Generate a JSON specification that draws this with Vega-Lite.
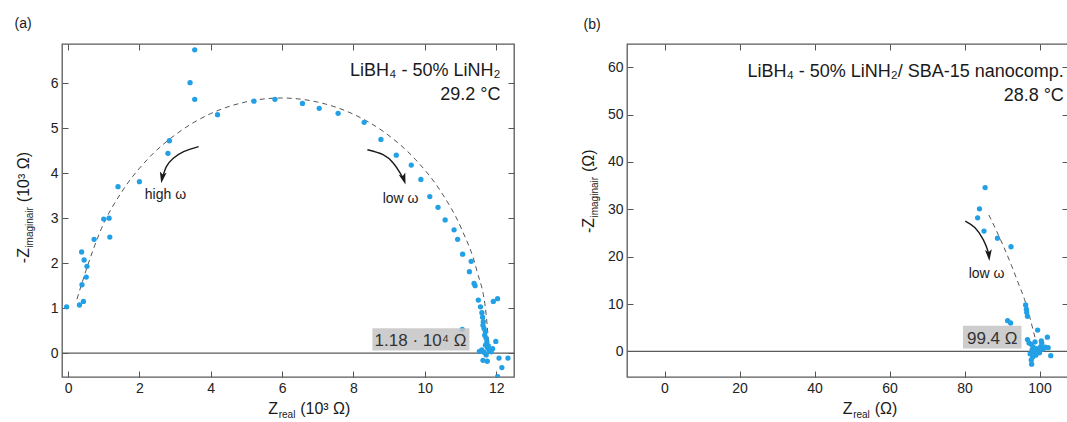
{
  "$schema": "https://vega.github.io/schema/vega-lite/v6.json",
  "background": "white",
  "padding": {"left": 13, "top": 16, "right": 0, "bottom": 0},
  "bounds": "flush",
  "spacing": 113,
  "config": {
    "font": "Liberation Sans",
    "view": {"stroke": "#5a5a5a", "strokeWidth": 1.3},
    "axis": {"grid": false, "domain": false, "tickColor": "#555", "tickWidth": 1, "tickSize": -6, "labelFont": "Liberation Sans", "labelFontSize": 14, "labelColor": "#222", "labelPadding": 10},
    "text": {"font": "Liberation Sans", "color": "#1a1a1a"}
  },
  "datasets": {
    "zero": [{"y": 0}],
    "ptsA": [
      {"x": -0.04, "y": 1.03}, {"x": 0.32, "y": 1.07}, {"x": 0.43, "y": 1.15}, {"x": 0.38, "y": 2.25}, {"x": 0.45, "y": 2.07},
      {"x": 0.53, "y": 1.93}, {"x": 0.51, "y": 1.69}, {"x": 0.39, "y": 1.52}, {"x": 0.73, "y": 2.53}, {"x": 1.0, "y": 2.98},
      {"x": 1.15, "y": 3.0}, {"x": 1.17, "y": 2.58}, {"x": 1.4, "y": 3.7}, {"x": 2.0, "y": 3.81}, {"x": 2.8, "y": 4.44},
      {"x": 2.84, "y": 4.72}, {"x": 3.42, "y": 6.01}, {"x": 3.55, "y": 6.74}, {"x": 3.55, "y": 5.64}, {"x": 4.19, "y": 5.3},
      {"x": 5.21, "y": 5.6}, {"x": 5.8, "y": 5.64}, {"x": 6.57, "y": 5.55}, {"x": 7.04, "y": 5.44}, {"x": 7.57, "y": 5.33},
      {"x": 8.3, "y": 5.13}, {"x": 8.77, "y": 4.75}, {"x": 9.2, "y": 4.4}, {"x": 9.62, "y": 4.18}, {"x": 9.89, "y": 3.86},
      {"x": 10.14, "y": 3.48}, {"x": 10.37, "y": 3.24}, {"x": 10.57, "y": 2.96}, {"x": 10.82, "y": 2.74}, {"x": 10.92, "y": 2.53},
      {"x": 11.06, "y": 2.2}, {"x": 11.3, "y": 2.04}, {"x": 11.25, "y": 1.81}, {"x": 11.38, "y": 1.55}, {"x": 11.41, "y": 1.5},
      {"x": 11.5, "y": 1.18}, {"x": 11.56, "y": 1.03}, {"x": 11.92, "y": 1.15}, {"x": 12.04, "y": 1.21}, {"x": 11.6, "y": 0.9},
      {"x": 11.62, "y": 0.8}, {"x": 11.64, "y": 0.7}, {"x": 11.63, "y": 0.62}, {"x": 11.66, "y": 0.55}, {"x": 11.7, "y": 0.48},
      {"x": 11.68, "y": 0.4}, {"x": 11.72, "y": 0.33}, {"x": 11.74, "y": 0.25}, {"x": 11.7, "y": 0.18}, {"x": 11.76, "y": 0.12},
      {"x": 11.6, "y": 0.07}, {"x": 11.53, "y": 0.04}, {"x": 11.66, "y": 0.02}, {"x": 11.8, "y": 0.06}, {"x": 11.86, "y": 0.03},
      {"x": 11.78, "y": 0.16}, {"x": 11.9, "y": 0.1}, {"x": 11.72, "y": -0.04}, {"x": 11.63, "y": -0.16}, {"x": 11.75, "y": -0.18},
      {"x": 11.05, "y": 0.53}, {"x": 11.99, "y": 0.26}, {"x": 12.08, "y": -0.11}, {"x": 12.33, "y": -0.11}, {"x": 12.16, "y": -0.32},
      {"x": 12.04, "y": -0.52}
    ],
    "fitA": [
      {"x": 0.25, "y": 1.2}, {"x": 0.5, "y": 1.83}, {"x": 0.93, "y": 2.76}, {"x": 1.51, "y": 3.59}, {"x": 2.23, "y": 4.31},
      {"x": 3.07, "y": 4.89}, {"x": 3.99, "y": 5.32}, {"x": 4.97, "y": 5.58}, {"x": 5.98, "y": 5.67}, {"x": 6.99, "y": 5.58},
      {"x": 7.97, "y": 5.32}, {"x": 8.9, "y": 4.89}, {"x": 9.73, "y": 4.31}, {"x": 10.45, "y": 3.59}, {"x": 11.03, "y": 2.76},
      {"x": 11.46, "y": 1.83}, {"x": 11.72, "y": 0.85}, {"x": 11.81, "y": 0.0}
    ],
    "arrowsA": [
      {"a": 1, "x": 3.66, "y": 4.59}, {"a": 1, "x": 3.24, "y": 4.48}, {"a": 1, "x": 2.95, "y": 4.33}, {"a": 1, "x": 2.76, "y": 4.15}, {"a": 1, "x": 2.66, "y": 3.93},
      {"a": 2, "x": 8.39, "y": 4.52}, {"a": 2, "x": 8.83, "y": 4.41}, {"a": 2, "x": 9.12, "y": 4.22}, {"a": 2, "x": 9.31, "y": 4.0}, {"a": 2, "x": 9.39, "y": 3.88}
    ],
    "headA1": [{"x": 2.64, "y": 3.9}],
    "headA2": [{"x": 9.41, "y": 3.87}],
    "boxA": [{"x": 8.53, "x2": 11.25, "y": 0.06, "y2": 0.556}],
    "boxTextA": [{"x": 9.88, "y": 0.15, "t": "1.18 · 10⁴ Ω"}],
    "noteA": [{"x": 12.12, "y": 6.15, "t": "LiBH₄ - 50% LiNH₂"}, {"x": 12.12, "y": 5.63, "t": "29.2 °C"}],
    "omegaA": [{"x": 2.73, "y": 3.42, "t": "high ω"}, {"x": 9.32, "y": 3.33, "t": "low ω"}],
    "tagA": [{"x": -1.5, "y": 7.23, "t": "(a)"}],
    "xtA": [{"x": 5.61, "y": -1.35}],
    "ytA": [{"x": -1.1, "y": 2.0}],
    "ptsB": [
      {"x": 85.5, "y": 34.6}, {"x": 84.0, "y": 30.1}, {"x": 83.5, "y": 28.2}, {"x": 85.2, "y": 25.4}, {"x": 88.8, "y": 23.9},
      {"x": 92.4, "y": 22.1}, {"x": 96.3, "y": 9.8}, {"x": 96.5, "y": 8.9}, {"x": 96.8, "y": 7.4}, {"x": 96.6, "y": 8.2},
      {"x": 91.5, "y": 6.5}, {"x": 92.3, "y": 6.0}, {"x": 99.5, "y": 4.5}, {"x": 102.1, "y": 3.0}, {"x": 96.8, "y": 2.5},
      {"x": 97.2, "y": 1.8}, {"x": 97.8, "y": 1.5}, {"x": 98.3, "y": 0.9}, {"x": 98.0, "y": 0.3}, {"x": 97.5, "y": -0.5},
      {"x": 98.2, "y": -1.2}, {"x": 97.8, "y": -1.8}, {"x": 97.9, "y": -2.7}, {"x": 98.6, "y": -0.3}, {"x": 99.2, "y": 0.6},
      {"x": 99.8, "y": 0.2}, {"x": 100.3, "y": 1.0}, {"x": 100.6, "y": 1.8}, {"x": 101.0, "y": 0.5}, {"x": 101.5, "y": 0.9},
      {"x": 102.3, "y": 0.8}, {"x": 100.0, "y": -0.3}, {"x": 99.0, "y": -0.8}, {"x": 103.0, "y": -0.9}, {"x": 98.8, "y": 2.0},
      {"x": 100.5, "y": 2.2}
    ],
    "fitB": [
      {"x": 86.5, "y": 28.8}, {"x": 88.5, "y": 25.5}, {"x": 90.5, "y": 22.0}, {"x": 92.5, "y": 18.2}, {"x": 94.3, "y": 14.5},
      {"x": 96.0, "y": 11.0}, {"x": 97.2, "y": 7.8}, {"x": 98.3, "y": 4.5}, {"x": 99.0, "y": 2.3}
    ],
    "arrowsB": [
      {"a": 1, "x": 80.2, "y": 27.5}, {"a": 1, "x": 82.8, "y": 26.1}, {"a": 1, "x": 85.0, "y": 23.6}, {"a": 1, "x": 86.2, "y": 21.3}, {"a": 1, "x": 86.4, "y": 20.5}
    ],
    "headB": [{"x": 86.5, "y": 20.3}],
    "boxB": [{"x": 79.6, "x2": 95.2, "y": 0.63, "y2": 5.4}],
    "boxTextB": [{"x": 87.4, "y": 1.5, "t": "99.4 Ω"}],
    "noteB": [{"x": 106.5, "y": 57.9, "t": "LiBH₄ - 50% LiNH₂/ SBA-15 nanocomp."}, {"x": 106.5, "y": 52.8, "t": "28.8 °C"}],
    "omegaB": [{"x": 85.9, "y": 15.6, "t": "low ω"}],
    "tagB": [{"x": -21.6, "y": 68.1, "t": "(b)"}],
    "xtB": [{"x": 47.5, "y": -13.3}],
    "ytB": [{"x": -18.7, "y": 25.0}]
  },
  "hconcat": [
    {
      "width": 452,
      "height": 333,
      "resolve": {"axis": {"x": "independent", "y": "independent"}},
      "layer": [
        {
          "data": {"name": "fitA"},
          "mark": {"type": "line", "stroke": "#555", "strokeWidth": 1, "strokeDash": [5, 4], "interpolate": "monotone", "clip": true},
          "encoding": {
            "x": {"field": "x", "type": "quantitative", "scale": {"domain": [-0.17, 12.5], "nice": false, "zero": false}, "axis": {"orient": "top", "values": [0, 2, 4, 6, 8, 10, 12], "labels": false, "title": null}},
            "y": {"field": "y", "type": "quantitative", "scale": {"domain": [-0.53, 6.87], "nice": false, "zero": false}, "axis": {"orient": "right", "values": [0, 1, 2, 3, 4, 5, 6], "labels": false, "title": null}}
          }
        },
        {
          "data": {"name": "zero"},
          "mark": {"type": "rule", "color": "#5a5a5a", "strokeWidth": 1.3},
          "encoding": {"y": {"field": "y", "type": "quantitative", "axis": null}}
        },
        {
          "data": {"name": "ptsA"},
          "mark": {"type": "circle", "size": 28, "color": "#22a0e6", "opacity": 1, "clip": true},
          "encoding": {
            "x": {"field": "x", "type": "quantitative", "axis": {"orient": "bottom", "values": [0, 2, 4, 6, 8, 10, 12], "title": null}},
            "y": {"field": "y", "type": "quantitative", "axis": {"orient": "left", "values": [0, 1, 2, 3, 4, 5, 6], "title": null}}
          }
        },
        {
          "data": {"name": "boxA"},
          "mark": {"type": "rect", "color": "#c4c4c4", "opacity": 0.85},
          "encoding": {
            "x": {"field": "x", "type": "quantitative", "axis": null}, "x2": {"field": "x2"},
            "y": {"field": "y", "type": "quantitative", "axis": null}, "y2": {"field": "y2"}
          }
        },
        {
          "data": {"name": "boxTextA"},
          "mark": {"type": "text", "fontSize": 17, "align": "center", "baseline": "alphabetic", "color": "#333"},
          "encoding": {"x": {"field": "x", "type": "quantitative", "axis": null}, "y": {"field": "y", "type": "quantitative", "axis": null}, "text": {"field": "t"}}
        },
        {
          "data": {"name": "arrowsA"},
          "mark": {"type": "line", "color": "#1a1a1a", "strokeWidth": 1.4, "interpolate": "natural"},
          "encoding": {"x": {"field": "x", "type": "quantitative", "axis": null}, "y": {"field": "y", "type": "quantitative", "axis": null}, "detail": {"field": "a"}}
        },
        {
          "data": {"name": "headA1"},
          "mark": {"type": "point", "shape": "M-0.6,-1L0,1L0.6,-1L0,-0.55Z", "filled": true, "color": "#1a1a1a", "opacity": 1, "size": 130, "angle": 10},
          "encoding": {"x": {"field": "x", "type": "quantitative", "axis": null}, "y": {"field": "y", "type": "quantitative", "axis": null}}
        },
        {
          "data": {"name": "headA2"},
          "mark": {"type": "point", "shape": "M-0.6,-1L0,1L0.6,-1L0,-0.55Z", "filled": true, "color": "#1a1a1a", "opacity": 1, "size": 130, "angle": -18},
          "encoding": {"x": {"field": "x", "type": "quantitative", "axis": null}, "y": {"field": "y", "type": "quantitative", "axis": null}}
        },
        {
          "data": {"name": "noteA"},
          "mark": {"type": "text", "fontSize": 18, "align": "right", "baseline": "alphabetic"},
          "encoding": {"x": {"field": "x", "type": "quantitative", "axis": null}, "y": {"field": "y", "type": "quantitative", "axis": null}, "text": {"field": "t"}}
        },
        {
          "data": {"name": "omegaA"},
          "mark": {"type": "text", "fontSize": 14, "align": "center", "baseline": "alphabetic"},
          "encoding": {"x": {"field": "x", "type": "quantitative", "axis": null}, "y": {"field": "y", "type": "quantitative", "axis": null}, "text": {"field": "t"}}
        },
        {
          "data": {"name": "tagA"},
          "mark": {"type": "text", "fontSize": 14, "align": "left", "baseline": "alphabetic"},
          "encoding": {"x": {"field": "x", "type": "quantitative", "axis": null}, "y": {"field": "y", "type": "quantitative", "axis": null}, "text": {"field": "t"}}
        },
        {
          "data": {"name": "xtA"},
          "mark": {"type": "text", "fontSize": 16, "align": "left", "baseline": "alphabetic", "text": "Z"},
          "encoding": {"x": {"field": "x", "type": "quantitative", "axis": null}, "y": {"field": "y", "type": "quantitative", "axis": null}}
        },
        {
          "data": {"name": "xtA"},
          "mark": {"type": "text", "fontSize": 10, "align": "left", "baseline": "alphabetic", "text": "real", "dx": 10.5, "dy": 4},
          "encoding": {"x": {"field": "x", "type": "quantitative", "axis": null}, "y": {"field": "y", "type": "quantitative", "axis": null}}
        },
        {
          "data": {"name": "xtA"},
          "mark": {"type": "text", "fontSize": 16, "align": "left", "baseline": "alphabetic", "text": "(10³ Ω)", "dx": 32},
          "encoding": {"x": {"field": "x", "type": "quantitative", "axis": null}, "y": {"field": "y", "type": "quantitative", "axis": null}}
        },
        {
          "data": {"name": "ytA"},
          "mark": {"type": "text", "fontSize": 16, "align": "left", "baseline": "alphabetic", "angle": 270, "text": "-Z"},
          "encoding": {"x": {"field": "x", "type": "quantitative", "axis": null}, "y": {"field": "y", "type": "quantitative", "axis": null}}
        },
        {
          "data": {"name": "ytA"},
          "mark": {"type": "text", "fontSize": 10, "align": "left", "baseline": "alphabetic", "angle": 270, "text": "imaginair", "dx": 15.5, "dy": 4},
          "encoding": {"x": {"field": "x", "type": "quantitative", "axis": null}, "y": {"field": "y", "type": "quantitative", "axis": null}}
        },
        {
          "data": {"name": "ytA"},
          "mark": {"type": "text", "fontSize": 16, "align": "left", "baseline": "alphabetic", "angle": 270, "text": "(10³ Ω)", "dx": 61},
          "encoding": {"x": {"field": "x", "type": "quantitative", "axis": null}, "y": {"field": "y", "type": "quantitative", "axis": null}}
        }
      ]
    },
    {
      "width": 441,
      "height": 333,
      "resolve": {"axis": {"x": "independent", "y": "independent"}},
      "layer": [
        {
          "data": {"name": "fitB"},
          "mark": {"type": "line", "stroke": "#555", "strokeWidth": 1, "strokeDash": [5, 4], "interpolate": "monotone", "clip": true},
          "encoding": {
            "x": {"field": "x", "type": "quantitative", "scale": {"domain": [-10, 107.6], "nice": false, "zero": false}, "axis": {"orient": "top", "values": [0, 20, 40, 60, 80, 100], "labels": false, "title": null}},
            "y": {"field": "y", "type": "quantitative", "scale": {"domain": [-5.4, 64.9], "nice": false, "zero": false}, "axis": {"orient": "right", "values": [0, 10, 20, 30, 40, 50, 60], "labels": false, "title": null}}
          }
        },
        {
          "data": {"name": "zero"},
          "mark": {"type": "rule", "color": "#5a5a5a", "strokeWidth": 1.3},
          "encoding": {"y": {"field": "y", "type": "quantitative", "axis": null}}
        },
        {
          "data": {"name": "ptsB"},
          "mark": {"type": "circle", "size": 28, "color": "#22a0e6", "opacity": 1, "clip": true},
          "encoding": {
            "x": {"field": "x", "type": "quantitative", "axis": {"orient": "bottom", "values": [0, 20, 40, 60, 80, 100], "title": null}},
            "y": {"field": "y", "type": "quantitative", "axis": {"orient": "left", "values": [0, 10, 20, 30, 40, 50, 60], "title": null}}
          }
        },
        {
          "data": {"name": "boxB"},
          "mark": {"type": "rect", "color": "#c4c4c4", "opacity": 0.85},
          "encoding": {
            "x": {"field": "x", "type": "quantitative", "axis": null}, "x2": {"field": "x2"},
            "y": {"field": "y", "type": "quantitative", "axis": null}, "y2": {"field": "y2"}
          }
        },
        {
          "data": {"name": "boxTextB"},
          "mark": {"type": "text", "fontSize": 17, "align": "center", "baseline": "alphabetic", "color": "#333"},
          "encoding": {"x": {"field": "x", "type": "quantitative", "axis": null}, "y": {"field": "y", "type": "quantitative", "axis": null}, "text": {"field": "t"}}
        },
        {
          "data": {"name": "arrowsB"},
          "mark": {"type": "line", "color": "#1a1a1a", "strokeWidth": 1.4, "interpolate": "natural"},
          "encoding": {"x": {"field": "x", "type": "quantitative", "axis": null}, "y": {"field": "y", "type": "quantitative", "axis": null}, "detail": {"field": "a"}}
        },
        {
          "data": {"name": "headB"},
          "mark": {"type": "point", "shape": "M-0.6,-1L0,1L0.6,-1L0,-0.55Z", "filled": true, "color": "#1a1a1a", "opacity": 1, "size": 130, "angle": -5},
          "encoding": {"x": {"field": "x", "type": "quantitative", "axis": null}, "y": {"field": "y", "type": "quantitative", "axis": null}}
        },
        {
          "data": {"name": "noteB"},
          "mark": {"type": "text", "fontSize": 18, "align": "right", "baseline": "alphabetic"},
          "encoding": {"x": {"field": "x", "type": "quantitative", "axis": null}, "y": {"field": "y", "type": "quantitative", "axis": null}, "text": {"field": "t"}}
        },
        {
          "data": {"name": "omegaB"},
          "mark": {"type": "text", "fontSize": 14, "align": "center", "baseline": "alphabetic"},
          "encoding": {"x": {"field": "x", "type": "quantitative", "axis": null}, "y": {"field": "y", "type": "quantitative", "axis": null}, "text": {"field": "t"}}
        },
        {
          "data": {"name": "tagB"},
          "mark": {"type": "text", "fontSize": 14, "align": "left", "baseline": "alphabetic"},
          "encoding": {"x": {"field": "x", "type": "quantitative", "axis": null}, "y": {"field": "y", "type": "quantitative", "axis": null}, "text": {"field": "t"}}
        },
        {
          "data": {"name": "xtB"},
          "mark": {"type": "text", "fontSize": 16, "align": "left", "baseline": "alphabetic", "text": "Z"},
          "encoding": {"x": {"field": "x", "type": "quantitative", "axis": null}, "y": {"field": "y", "type": "quantitative", "axis": null}}
        },
        {
          "data": {"name": "xtB"},
          "mark": {"type": "text", "fontSize": 10, "align": "left", "baseline": "alphabetic", "text": "real", "dx": 10.5, "dy": 4},
          "encoding": {"x": {"field": "x", "type": "quantitative", "axis": null}, "y": {"field": "y", "type": "quantitative", "axis": null}}
        },
        {
          "data": {"name": "xtB"},
          "mark": {"type": "text", "fontSize": 16, "align": "left", "baseline": "alphabetic", "text": "(Ω)", "dx": 32},
          "encoding": {"x": {"field": "x", "type": "quantitative", "axis": null}, "y": {"field": "y", "type": "quantitative", "axis": null}}
        },
        {
          "data": {"name": "ytB"},
          "mark": {"type": "text", "fontSize": 16, "align": "left", "baseline": "alphabetic", "angle": 270, "text": "-Z"},
          "encoding": {"x": {"field": "x", "type": "quantitative", "axis": null}, "y": {"field": "y", "type": "quantitative", "axis": null}}
        },
        {
          "data": {"name": "ytB"},
          "mark": {"type": "text", "fontSize": 10, "align": "left", "baseline": "alphabetic", "angle": 270, "text": "imaginair", "dx": 15.5, "dy": 4},
          "encoding": {"x": {"field": "x", "type": "quantitative", "axis": null}, "y": {"field": "y", "type": "quantitative", "axis": null}}
        },
        {
          "data": {"name": "ytB"},
          "mark": {"type": "text", "fontSize": 16, "align": "left", "baseline": "alphabetic", "angle": 270, "text": "(Ω)", "dx": 61},
          "encoding": {"x": {"field": "x", "type": "quantitative", "axis": null}, "y": {"field": "y", "type": "quantitative", "axis": null}}
        }
      ]
    }
  ]
}
